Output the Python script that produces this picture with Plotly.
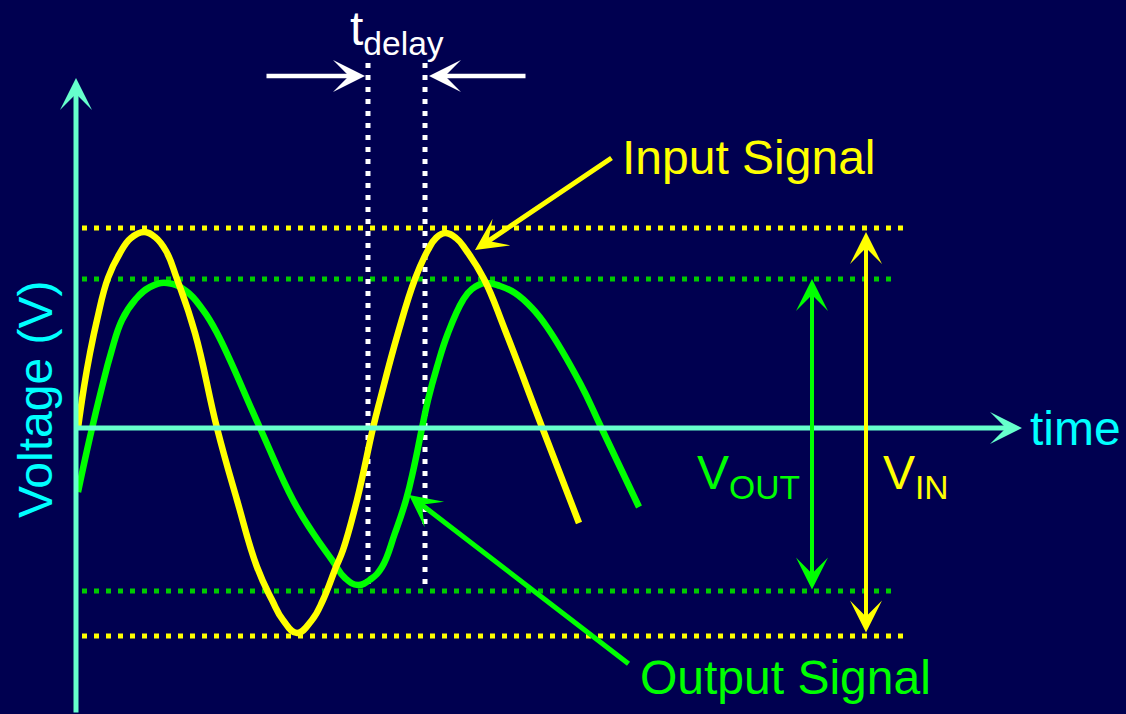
import plotly.graph_objects as go

# ---- data (time units, voltage units; origin = axes crossing) ----
t_in = [0.02, 0.08, 0.14, 0.21, 0.32, 0.44, 0.55, 0.68, 0.79, 0.90, 1.01, 1.19, 1.41, 1.61,
        1.81, 1.96, 2.07, 2.21, 2.36, 2.47, 2.60, 2.67, 2.81, 2.97, 3.04, 3.22, 3.39, 3.52,
        3.60, 3.69, 3.80, 3.90, 4.08, 4.29, 4.66, 5.03]
v_in = [0.00, 0.41, 0.75, 1.08, 1.50, 1.75, 1.90, 1.96, 1.91, 1.77, 1.49, 0.95, 0.00, -0.72,
        -1.39, -1.72, -1.92, -2.05, -1.92, -1.72, -1.39, -1.22, -0.72, 0.00, 0.28, 0.95, 1.49, 1.78,
        1.90, 1.95, 1.90, 1.78, 1.49, 0.98, 0.01, -0.95]

t_out = [0.02, 0.14, 0.26, 0.35, 0.46, 0.59, 0.74, 0.91, 1.10, 1.27, 1.41, 1.84, 2.17, 2.37,
         2.56, 2.69, 2.82, 2.95, 3.06, 3.19, 3.30, 3.38, 3.46, 3.52, 3.61, 3.72, 3.87, 3.96,
         4.09, 4.24, 4.39, 4.56, 4.71, 5.04, 5.25, 5.63]
v_out = [-0.64, -0.09, 0.41, 0.75, 1.08, 1.28, 1.41, 1.45, 1.37, 1.18, 0.95, 0.00, -0.72, -1.05,
         -1.32, -1.50, -1.57, -1.51, -1.39, -1.05, -0.72, -0.39, 0.00, 0.28, 0.61, 0.95, 1.28, 1.39,
         1.45, 1.42, 1.35, 1.20, 1.01, 0.45, 0.01, -0.79]

vin_levels = [2.00, -2.08]     # input peak / trough guide levels
vout_levels = [1.49, -1.63]    # output peak / trough guide levels
delay_marks = [2.92, 3.49]     # t_delay guide positions

labels = {"input": "Input Signal", "output": "Output Signal", "time": "time",
          "voltage": "Voltage (V)", "vout": "V<sub>OUT</sub>", "vin": "V<sub>IN</sub>",
          "delay": "t<sub>delay</sub>"}

# ---- styling ----
BG = "#000050"
YEL = "#ffff00"
GRN = "#00ff00"
GRN_DOT = "#00cc00"
AXC = "#66ffcc"
CYAN = "#00ffff"
WHITE = "#ffffff"
FONT = "Liberation Sans, Arial, sans-serif"
FS = 48

X_RANGE = [-0.76, 10.50]
Y_RANGE = [-2.86, 4.28]

fig = go.Figure()

fig.add_trace(go.Scatter(x=t_out, y=v_out, mode="lines",
                         line=dict(color=GRN, width=6.5, shape="spline", smoothing=1.25,
                                   simplify=False),
                         hoverinfo="skip", showlegend=False))
fig.add_trace(go.Scatter(x=t_in, y=v_in, mode="lines",
                         line=dict(color=YEL, width=6.5, shape="spline", smoothing=1.25,
                                   simplify=False),
                         hoverinfo="skip", showlegend=False))

shapes = []
for lv in vin_levels:
    shapes.append(dict(type="line", xref="x", yref="y", x0=0.06, x1=8.29, y0=lv, y1=lv,
                       line=dict(color=YEL, width=5, dash="5px,7px"), layer="below"))
for lv in vout_levels:
    shapes.append(dict(type="line", xref="x", yref="y", x0=0.06, x1=8.22, y0=lv, y1=lv,
                       line=dict(color=GRN_DOT, width=5, dash="5px,7px"), layer="below"))
for tm in delay_marks:
    shapes.append(dict(type="line", xref="x", yref="y", x0=tm, x1=tm, y0=3.65, y1=-1.56,
                       line=dict(color=WHITE, width=5, dash="5px,7px"), layer="below"))

annotations = []


def arrow(x, y, ax, ay, color, width, both=False):
    head = 32.0
    s = head / (6.0 * width)
    d = dict(x=x, y=y, ax=ax, ay=ay, xref="x", yref="y", axref="x", ayref="y",
             text="", showarrow=True, arrowhead=3, arrowsize=s, arrowwidth=width,
             arrowcolor=color, standoff=0, startstandoff=0)
    if both:
        d.update(arrowside="end+start", startarrowhead=3, startarrowsize=s)
    annotations.append(d)


# axes
arrow(0, 3.50, 0, -2.86, AXC, 5)
arrow(9.46, 0, 0, 0, AXC, 5)
# delay arrows
arrow(2.89, 3.52, 1.89, 3.52, WHITE, 4.5)
arrow(3.53, 3.52, 4.51, 3.52, WHITE, 4.5)
# pointers
arrow(3.99, 1.78, 5.37, 2.71, YEL, 5)
arrow(3.33, -0.67, 5.54, -2.37, GRN, 5)
# amplitude arrows
arrow(7.36, vout_levels[0], 7.36, vout_levels[1], GRN, 4, both=True)
arrow(7.90, vin_levels[0] - 0.04, 7.90, vin_levels[1] + 0.02, YEL, 4, both=True)


def label(x, y, text, color, xanchor="left", yanchor="middle", angle=0):
    annotations.append(dict(x=x, y=y, xref="x", yref="y", text=text, showarrow=False,
                            xanchor=xanchor, yanchor=yanchor, textangle=angle,
                            font=dict(family=FONT, size=FS, color=color)))


label(5.44, 2.71, labels["input"], YEL)
label(5.62, -2.49, labels["output"], GRN)
label(10.47, 0.0, labels["time"], CYAN, xanchor="right")
label(-0.41, 0.28, labels["voltage"], CYAN, xanchor="center", angle=-90)
label(6.19, -0.48, labels["vout"], GRN)
label(8.05, -0.48, labels["vin"], YEL)
label(2.72, 3.96, labels["delay"], WHITE)

fig.update_layout(
    width=1126, height=714,
    margin=dict(l=0, r=0, t=0, b=0),
    paper_bgcolor=BG, plot_bgcolor=BG,
    xaxis=dict(range=X_RANGE, visible=False, fixedrange=True),
    yaxis=dict(range=Y_RANGE, visible=False, fixedrange=True),
    shapes=shapes, annotations=annotations,
    showlegend=False,
)

fig.write_html("out.html", config={"displayModeBar": False},
               post_script="document.body.style.margin='0';"
                           "document.body.style.background='" + BG + "';")
